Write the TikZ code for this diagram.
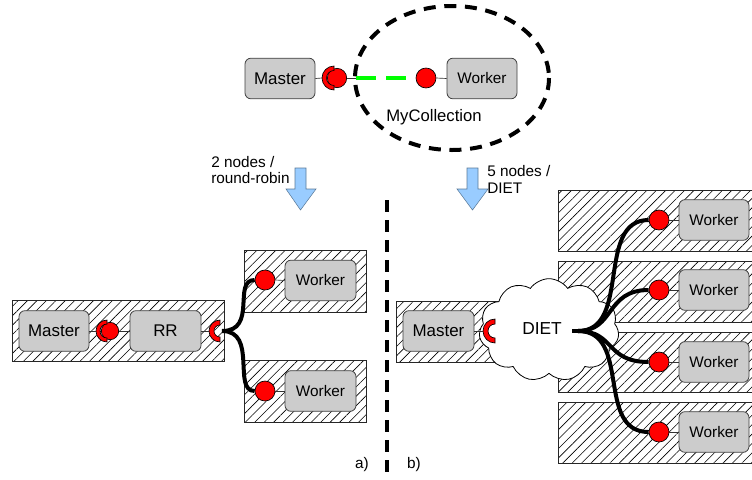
\documentclass[tikz,border=0pt]{standalone}
\usepackage{fontspec}
\setmainfont{Liberation Sans}
\usetikzlibrary{shapes.symbols,patterns.meta,calc}
\definecolor{boxgray}{HTML}{CCCCCC}
\definecolor{arrowblue}{HTML}{99CCFF}
\definecolor{arrowedge}{HTML}{5A7A99}
\definecolor{dgreen}{HTML}{00FF00}
\newcommand{\cupshape}[4]{%
  \filldraw[cup] (#1,#2) ++(0pt,{#3*0.75pt}) arc[start angle=90,end angle=270,radius={#3*0.75pt}]
    -- ++(0pt,{(#3-#4)*0.75pt}) arc[start angle=270,end angle=90,radius={#4*0.75pt}] -- cycle;}
\begin{document}
\begin{tikzpicture}[x=0.75pt,y=-0.75pt,
  comp/.style={draw=black!75, fill=boxgray, rounded corners=4.5pt, minimum width=52.5pt,
    minimum height=30.5pt, inner sep=0pt, font=\fontsize{11.5}{13}\selectfont, line width=0.6pt},
  big/.style={font=\fontsize{12.7}{14}\selectfont},
  ball/.style={circle, fill=red, draw=black, line width=0.5pt, minimum size=15pt, inner sep=0pt},
  hatch/.style={draw=black!85, line width=0.6pt, pattern={Lines[angle=45,distance=5pt,line width=0.45pt]}},
  wire/.style={line width=3pt},
  thinl/.style={line width=0.5pt, draw=black!80},
  cup/.style={fill=red, draw=black, line width=0.5pt},
  lbl/.style={font=\fontsize{11.5}{13}\selectfont, inner sep=0pt},
  bigarrow/.style={fill=arrowblue, draw=arrowedge, line width=0.4pt},
]
\useasboundingbox (0,0) rectangle (752,479);
\clip (0,0) rectangle (752,479);

% ---------------- top part ----------------
\draw[line width=3pt, dash pattern=on 9pt off 6.5pt] (452,78) ellipse [x radius=97, y radius=72];
\node[comp, big] (mTop) at (280,78.5) {Master};
\node[comp] (wTop) at (482,78.5) {Worker};
\node[ball, minimum size=14.5pt] (mTopBall) at (337,78) {};
\cupshape{334}{78}{12}{7.5}
\node[ball] (wTopBall) at (426,78) {};
\coordinate (gStart) at (356,78);
\draw[thinl] (mTop.east) -- (322,78);
\draw[thinl] (mTopBall.east) -- (gStart);
\draw[dgreen, line width=3pt, dash pattern=on 15pt off 7.5pt] (gStart) -- (wTopBall.west);
\draw[thinl] (wTopBall.east) -- (wTop.west);
\node[lbl, font=\fontsize{12.5}{14}\selectfont] (myc) at (434,117) {MyCollection};

% ---------------- arrows and labels ----------------
\draw[bigarrow] (295,168) -- (306,168) -- (306,189) -- (316,189) -- (300.5,210) -- (286,189) -- (295,189) -- cycle;
\draw[bigarrow] (467,168) -- (478,168) -- (478,189) -- (488,189) -- (472.5,210) -- (457,189) -- (467,189) -- cycle;
\node[lbl, anchor=base west] (l1a) at (211,167) {2 nodes /};
\node[lbl, anchor=base west] (l1b) at (211,183) {round-robin};
\node[lbl, anchor=base west] (l2a) at (487,176) {5 nodes /};
\node[lbl, anchor=base west] (l2b) at (487,193) {DIET};

\draw[line width=2.4pt, dash pattern=on 9pt off 6pt] (387,200) -- (387,479);
\node[lbl] (la) at (362,465) {a)};
\node[lbl] (lb) at (414,465) {b)};

% ---------------- a) ----------------
\draw[hatch] (12,300) rectangle (224,361);
\draw[hatch] (244,250) rectangle (366,312);
\draw[hatch] (244,360) rectangle (366,422);
\node[comp, big] (mL) at (54,331) {Master};
\node[comp, big, minimum width=53.25pt] (rr) at (165.5,331) {RR};
\node[ball, minimum size=13pt] (mLBall) at (110,331) {};
\cupshape{107}{331}{11}{7}
\draw[thinl] (mL.east) -- (96,331);
\draw[thinl] (mLBall.east) -- (rr.west);
\cupshape{220}{331}{11}{6}
\coordinate (rrcup) at (222,331);
\draw[thinl] (rr.east) -- (209,331);
\node[comp, minimum width=53.25pt] (wL1) at (320.5,280.5) {Worker};
\node[comp, minimum width=53.25pt] (wL2) at (320.5,391) {Worker};
\node[ball] (bL1) at (265,280) {};
\node[ball] (bL2) at (265,391) {};
\draw[thinl] (bL1.east) -- (wL1.west);
\draw[thinl] (bL2.east) -- (wL2.west);
\draw[wire] (rrcup) .. controls (258,331) and (232,280) .. (bL1.west);
\draw[wire] (rrcup) .. controls (258,331) and (232,391) .. (bL2.west);

% ---------------- b) ----------------
\draw[hatch] (396,301) rectangle (500,362);
\draw[hatch] (558,190) rectangle (770,251);
\draw[hatch] (558,261) rectangle (770,322);
\draw[hatch] (558,332) rectangle (770,392);
\draw[hatch] (558,402) rectangle (770,463);
\node[cloud, cloud puffs=11, cloud puff arc=110, aspect=1.4, draw=black, fill=white,
  line width=0.6pt, minimum width=105pt, minimum height=77pt, inner sep=0pt] (diet) at (549,330) {};
\node[lbl, font=\fontsize{13}{15}\selectfont] (dietl) at (542,329) {DIET};
\node[comp, big, minimum width=53.25pt] (mR) at (438.5,331) {Master};
\cupshape{495}{331}{12}{7}
\draw[thinl] (mR.east) -- (483,331);
\coordinate (dout) at (578,331);
\foreach \i/\y in {1/220,2/290,3/362,4/432}{
  \node[comp] (wR\i) at (714,\y) {Worker};
  \node[ball] (bR\i) at (659,\y) {};
  \draw[thinl] (bR\i.east) -- (wR\i.west);
}
\draw[wire] (dout) .. controls (632,331) and (595,220) .. (bR1.west);
\draw[wire] (dout) .. controls (615,331) and (605,290) .. (bR2.west);
\draw[wire] (dout) .. controls (615,331) and (605,362) .. (bR3.west);
\draw[wire] (dout) .. controls (632,331) and (595,432) .. (bR4.west);
\draw[wire, line cap=butt] (dout) -- ++(-6,0);
\end{tikzpicture}
\end{document}
